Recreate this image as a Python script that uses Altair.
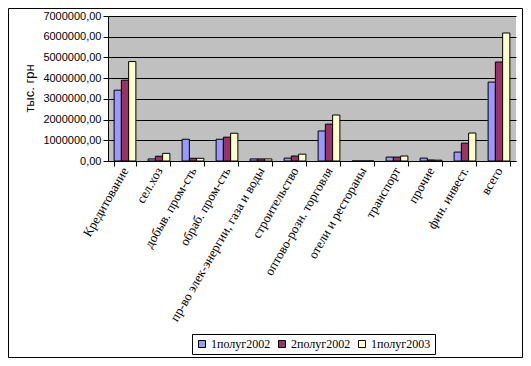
import altair as alt
import pandas as pd

categories = [
    "Кредитование",
    "сел.хоз",
    "добыв. пром-сть",
    "обраб. пром-сть",
    "пр-во элек-энергии, газа и воды",
    "строительство",
    "оптово-розн. торговля",
    "отели и рестораны",
    "транспорт",
    "прочие",
    "фин. инвест.",
    "всего",
]
series = ["1полуг2002", "2полуг2002", "1полуг2003"]
v_2002_1 = [3420000, 100000, 1050000, 1050000, 100000, 140000, 1450000, 0, 190000, 140000, 430000, 3810000]
v_2002_2 = [3900000, 230000, 130000, 1150000, 100000, 240000, 1780000, 0, 190000, 50000, 860000, 4780000]
v_2003_1 = [4800000, 370000, 130000, 1340000, 100000, 330000, 2220000, 0, 240000, 40000, 1350000, 6180000]
colors = ["#9999FF", "#993366", "#FFFFCC"]
y_ticks = [0, 1000000, 2000000, 3000000, 4000000, 5000000, 6000000, 7000000]

rows = []
for s, vals in zip(series, [v_2002_1, v_2002_2, v_2003_1]):
    for c, v in zip(categories, vals):
        rows.append({"cat": c, "series": s, "value": v})
df = pd.DataFrame(rows)

W, H = 408, 145

bars = alt.Chart(df).mark_bar(stroke="black", strokeWidth=1).encode(
    x=alt.X(
        "cat:N",
        sort=categories,
        scale=alt.Scale(paddingInner=0.36, paddingOuter=0.18),
        axis=alt.Axis(
            title=None,
            labelAngle=300,
            labelAlign="right",
            labelBaseline="middle",
            labelFont="Liberation Serif",
            labelFontSize=13,
            labelColor="black",
            labelPadding=2,
            tickBand="extent",
            tickSize=5,
            tickColor="black",
            domainColor="black",
            grid=False,
            labelOverlap=False,
            labelLimit=300,
        ),
    ),
    xOffset=alt.XOffset("series:N", sort=series, scale=alt.Scale(paddingInner=0, paddingOuter=0)),
    y=alt.Y(
        "value:Q",
        scale=alt.Scale(domain=[0, 7000000], nice=False),
        axis=alt.Axis(
            title="тыс. грн",
            titleFont="Liberation Sans",
            titleFontSize=13,
            titleFontWeight="normal",
            titleColor="black",
            titleX=-72,
            titleY=72,
            values=y_ticks,
            labelExpr="replace(format(datum.value, '.2f'), '.', ',')",
            labelFont="Liberation Sans",
            labelFontSize=11,
            labelColor="black",
            tickColor="black",
            tickSize=5,
            domainColor="black",
            gridColor="black",
            gridOpacity=1,
        ),
    ),
    color=alt.Color(
        "series:N",
        sort=series,
        scale=alt.Scale(domain=series, range=colors),
        legend=alt.Legend(
            title=None,
            orient="none",
            legendX=84,
            legendY=318,
            direction="horizontal",
            symbolType="square",
            symbolSize=49,
            symbolStrokeColor="black",
            symbolStrokeWidth=1,
            labelFont="Liberation Serif",
            labelFontSize=12,
            labelColor="black",
            strokeColor="black",
            fillColor="white",
            padding=4,
            columnPadding=5,
            labelOffset=3,
        ),
    ),
)

border = alt.Chart(pd.DataFrame({"a": [0]})).mark_rect(
    fillOpacity=0, stroke="black", strokeWidth=1, clip=False
).encode(
    x=alt.value(-99.5), x2=alt.value(414.5), y=alt.value(-7.5), y2=alt.value(341.5)
)

chart = alt.layer(bars, border).properties(
    width=W,
    height=H,
    autosize=alt.AutoSizeParams(type="none"),
    padding={"left": 100, "top": 8, "right": 7, "bottom": 197},
    background="white",
).configure_view(fill="#C0C0C0", stroke=None)

chart.save("out.html", embed_options={"renderer": "svg", "actions": False})
